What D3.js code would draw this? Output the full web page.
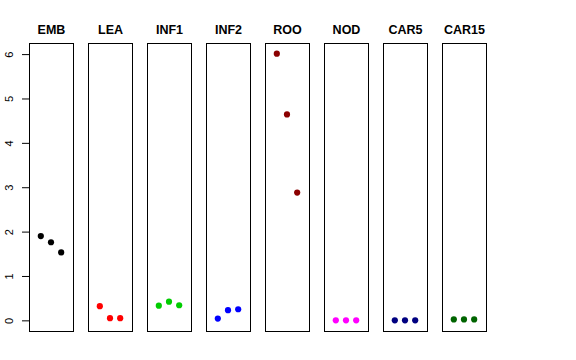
<!DOCTYPE html>
<html>
<head>
<meta charset="utf-8">
<script src="https://cdn.jsdelivr.net/npm/d3@7"></script>
<style>
  body { margin: 0; background: #fff; }
  svg { display: block; font-family: "Liberation Sans", Arial, sans-serif; }
</style>
</head>
<body>
<script>
const tissues = ['EMB', 'LEA', 'INF1', 'INF2', 'ROO', 'NOD', 'CAR5', 'CAR15']
const colors = ['#000000', '#FF0000', '#00CD00', '#0000FF', '#8B0000', '#FF00FF', '#000080', '#006400']
// three values per panel
const values = [
  [1.90, 1.76, 1.53],
  [0.32, 0.05, 0.05],
  [0.33, 0.42, 0.34],
  [0.04, 0.23, 0.25],
  [6.01, 4.64, 2.88],
  [0.00, 0.00, 0.00],
  [0.00, 0.00, 0.00],
  [0.02, 0.02, 0.02]
]
const yTicks = [0, 1, 2, 3, 4, 5, 6]

const fullWidth = 576
const fullHeight = 360
const plotTop = 43, plotBottom = 331
const panelLeft = 29, panelWidth = 44, panelStep = 59

const svg = d3.select('body').append('svg')
  .attr('width', fullWidth)
  .attr('height', fullHeight)

const y = d3.scaleLinear()
  .domain([-0.24, 6.25])
  .range([plotBottom, plotTop])

const panel = d3.scaleBand()
  .domain(tissues)
  .range([panelLeft, panelLeft + panelStep * tissues.length])

const x = d3.scaleLinear()
  .domain([-0.16, 4.16])
  .range([0, panelWidth])

// y axis on the first panel only
const yAxis = d3.axisLeft(y)
  .tickValues(yTicks)
  .tickSize(7)
  .tickPadding(8)
  .tickFormat(d3.format('d'))

const ax = svg.append('g')
  .attr('transform', `translate(${panelLeft},0)`)
  .call(yAxis)
ax.select('.domain').remove()
ax.selectAll('.tick line').attr('stroke', '#000')
ax.selectAll('.tick text')
  .attr('font-size', 11)
  .attr('fill', '#000')
  .attr('text-anchor', 'middle')
  .attr('x', 0)
  .attr('dy', 0)
  .attr('transform', 'translate(-16,0) rotate(-90)')

tissues.forEach((t, i) => {
  const g = svg.append('g')
    .attr('transform', `translate(${panel(t)},0)`)

  g.append('rect')
    .attr('x', 0.5)
    .attr('y', plotTop + 0.5)
    .attr('width', panelWidth)
    .attr('height', plotBottom - plotTop)
    .attr('fill', 'none')
    .attr('stroke', '#000')

  g.append('text')
    .attr('x', panelWidth / 2 + 0.5)
    .attr('y', 34)
    .attr('text-anchor', 'middle')
    .attr('font-size', 12.5)
    .attr('font-weight', 'bold')
    .text(t)

  g.selectAll('circle')
    .data(values[i])
    .enter().append('circle')
    .attr('cx', (d, j) => x(j + 1))
    .attr('cy', d => y(d))
    .attr('r', 3.1)
    .attr('fill', colors[i])
})
</script>
</body>
</html>
